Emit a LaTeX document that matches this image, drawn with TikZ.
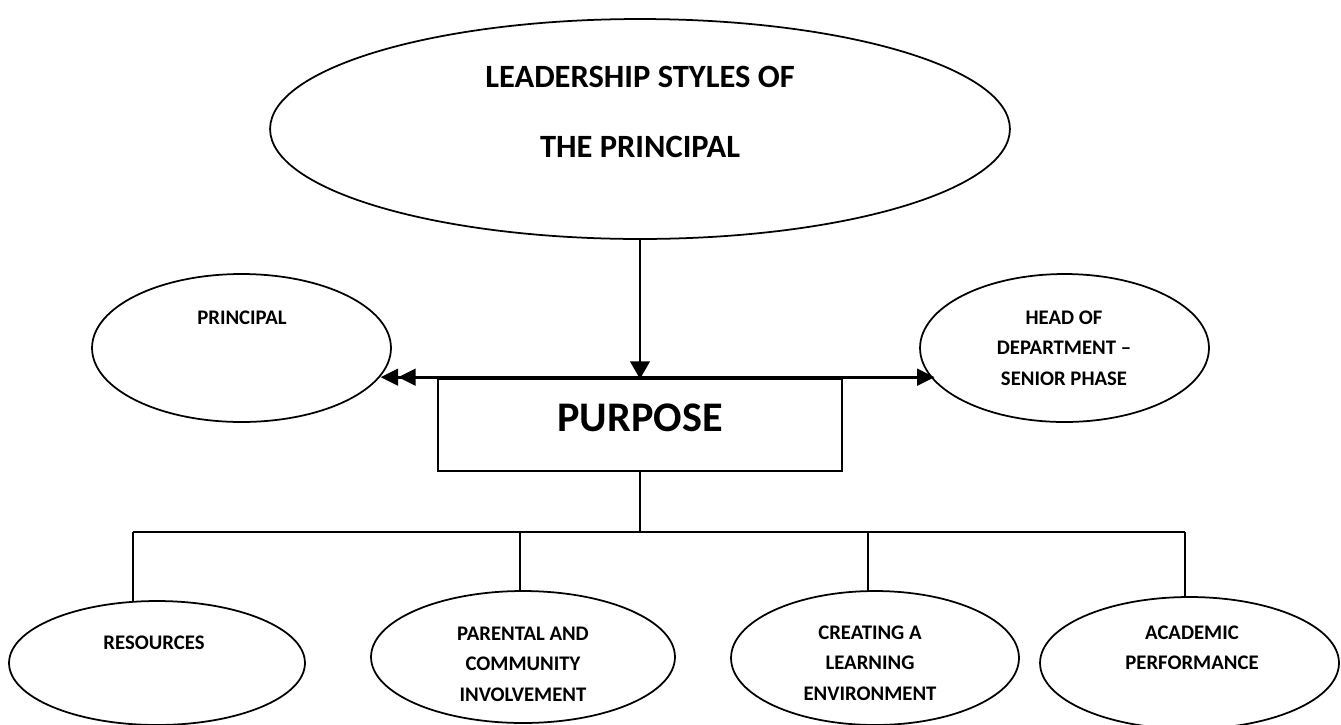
\documentclass[tikz,border=0pt]{standalone}
\usepackage{fontspec}
\setmainfont{Carlito}
\usetikzlibrary{shapes.geometric, arrows.meta, positioning}

\begin{document}
\begin{tikzpicture}[x=0.02cm, y=-0.02cm,
    bubble/.style={draw, ellipse, line width=1pt, inner sep=0pt, outer sep=0pt},
    lbl/.style={font=\bfseries\fontsize{11.8}{17.3}\selectfont, align=center},
    link/.style={line width=1.1pt},
    arr/.style={line width=1.6pt}]
    \useasboundingbox (0,0) rectangle (1341,724);

    % big ellipse on top
    \node[bubble, minimum width=14.8cm, minimum height=4.4cm] (leader) at (640,129) {};
    \node[font=\bfseries\fontsize{18.5}{40.2}\selectfont, align=center] (leadtxt) at (640,112)
        {LEADERSHIP STYLES OF\\THE PRINCIPAL};

    % the two side ellipses
    \node[bubble, minimum width=5.98cm, minimum height=2.96cm] (principal) at (241.5,348) {};
    \node[lbl] (principaltxt) at (242,318) {PRINCIPAL};
    \node[bubble, minimum width=5.78cm, minimum height=2.96cm] (hod) at (1064.5,348) {};
    \node[lbl] (hodtxt) at (1064,348) {HEAD OF\\DEPARTMENT –\\SENIOR PHASE};

    % purpose box
    \node[draw, line width=1.1pt, inner sep=0pt, outer sep=0pt,
        minimum width=8.08cm, minimum height=1.84cm] (purpose) at (640,425) {};
    \node[font=\bfseries\fontsize{24}{28}\selectfont] (purposetxt) at (640,418) {PURPOSE};

    \draw[arr, -{Triangle[length=10pt, width=11pt]}] (leader.south) -- (purpose.north);
    \draw[arr, {Triangle[length=10pt, width=9.5pt, sep=1pt] Triangle[length=10pt, width=9.5pt]}-{Triangle[length=10pt, width=9.5pt]}]
        (principal.-12.86) -- (principal.-12.86 -| hod.-166.7);

    % the four topics
    \node[bubble, minimum width=5.92cm, minimum height=2.48cm] (res) at (157,663) {};
    \node[lbl] (restxt) at (154,643) {RESOURCES};
    \node[bubble, minimum width=6.08cm, minimum height=2.64cm] (par) at (523,657) {};
    \node[lbl] (partxt) at (523,664) {PARENTAL AND\\COMMUNITY\\INVOLVEMENT};
    \node[bubble, minimum width=5.76cm, minimum height=2.68cm] (cre) at (875,658) {};
    \node[lbl] (cretxt) at (870,663) {CREATING A\\LEARNING\\ENVIRONMENT};
    \node[bubble, minimum width=5.98cm, minimum height=2.64cm] (aca) at (1189.5,663) {};
    \node[lbl] (acatxt) at (1192,648) {ACADEMIC\\PERFORMANCE};

    % tree from the box down
    \coordinate (bus) at (640,532);
    \coordinate (b1) at (133,532);
    \coordinate (b2) at (520,532);
    \coordinate (b3) at (868,532);
    \coordinate (b4) at (1185,532);
    \draw[link] (purpose.south) -- (bus);
    \draw[link] (b1) -- (b4);
    \foreach \b/\t in {b1/res, b2/par, b3/cre, b4/aca}
        \draw[link] (\b) -- (\b |- \t.north);
\end{tikzpicture}
\end{document}
